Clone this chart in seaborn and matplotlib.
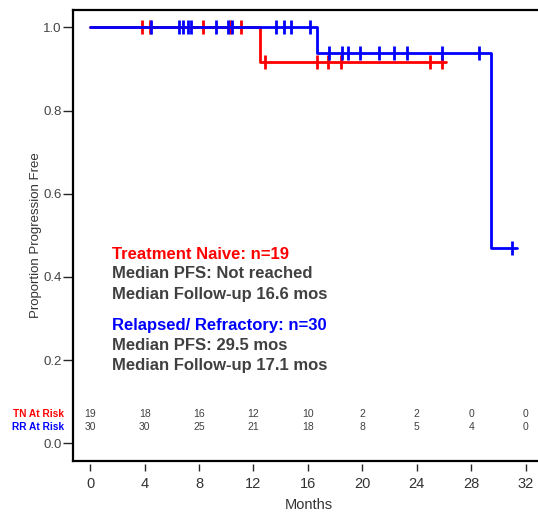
import numpy as np
import pandas as pd
import matplotlib
matplotlib.use("Agg")
import matplotlib.pyplot as plt
import seaborn as sns

# Kaplan-Meier steps (months, proportion progression free)
tn_times = [0, 12.48, 26.13]
tn_surv = [1.0, 0.917, 0.917]
tn_censor = [3.78, 4.39, 8.31, 10.27, 11.08, 12.84, 16.65, 17.5, 18.43, 24.98, 25.88]

rr_times = [0, 16.65, 29.44, 31.4]
rr_surv = [1.0, 0.939, 0.469, 0.469]
rr_censor = [4.46, 6.52, 6.84, 7.16, 7.40, 9.22, 10.15, 10.40, 13.63, 14.24,
             14.76, 16.15, 17.57, 18.49, 18.93, 19.83, 21.23, 22.35, 23.26,
             25.88, 28.60, 31.0]

risk_months = [0, 4, 8, 12, 16, 20, 24, 28, 32]
tn_at_risk = [19, 18, 16, 12, 10, 2, 2, 0, 0]
rr_at_risk = [30, 30, 25, 21, 18, 8, 5, 4, 0]

RED = "#ff0000"
BLUE = "#0000ff"
GREY = "#404040"


def step_value(times, surv, t):
    idx = np.searchsorted(times, t, side="right") - 1
    return np.asarray(surv)[idx]


sns.set_style("white")
plt.rcParams["font.family"] = ["Liberation Sans", "DejaVu Sans"]

fig = plt.figure(figsize=(5.38, 5.13), dpi=100)
ax = fig.add_axes([0.1351, 0.1019, 0.878, 0.8786])

tn_curve = pd.DataFrame({"month": tn_times, "pfs": tn_surv})
rr_curve = pd.DataFrame({"month": rr_times, "pfs": rr_surv})
sns.lineplot(data=tn_curve, x="month", y="pfs", drawstyle="steps-post",
             color=RED, linewidth=2.0, ax=ax)
sns.lineplot(data=rr_curve, x="month", y="pfs", drawstyle="steps-post",
             color=BLUE, linewidth=2.0, ax=ax)

tn_marks = pd.DataFrame({"month": tn_censor,
                         "pfs": step_value(tn_times, tn_surv, tn_censor)})
rr_marks = pd.DataFrame({"month": rr_censor,
                         "pfs": step_value(rr_times, rr_surv, rr_censor)})
sns.scatterplot(data=tn_marks, x="month", y="pfs", marker="|", s=110,
                color=RED, linewidth=2, ax=ax)
sns.scatterplot(data=rr_marks, x="month", y="pfs", marker="|", s=110,
                color=BLUE, linewidth=2, ax=ax)

ax.set_xlim(-1.29, 33.43)
ax.set_ylim(-0.042, 1.042)
ax.set_xticks(risk_months)
ax.set_yticks([0.0, 0.2, 0.4, 0.6, 0.8, 1.0])
ax.set_yticklabels(["0.0", "0.2", "0.4", "0.6", "0.8", "1.0"])
ax.tick_params(axis="y", direction="out", length=7, width=1, pad=1,
               labelsize=9.5, labelcolor="#444444", left=True)
ax.tick_params(axis="x", direction="out", length=5, width=1, pad=5,
               labelsize=10.5, labelcolor="#333333", bottom=True)

for side in ["left", "top"]:
    ax.spines[side].set_linewidth(1.6)
    ax.spines[side].set_color("black")
ax.spines["right"].set_visible(False)
# detached x ticks below the box, box bottom drawn separately
ax.spines["bottom"].set_position(("outward", 2))
ax.spines["bottom"].set_visible(False)
ax.plot([0, 1], [0, 0], transform=ax.transAxes, color="black",
        linewidth=1.6, clip_on=False, solid_capstyle="projecting")

ax.set_xlabel("Months", fontsize=10.5, color="#333333", labelpad=5)
ax.set_ylabel("Proportion Progression Free", fontsize=9.5, color="#333333",
              labelpad=1)

# annotations
notes = [
    ("Treatment Naive: n=19", 0.455, RED),
    ("Median PFS: Not reached", 0.409, GREY),
    ("Median Follow-up 16.6 mos", 0.357, GREY),
    ("Relapsed/ Refractory: n=30", 0.284, BLUE),
    ("Median PFS: 29.5 mos", 0.236, GREY),
    ("Median Follow-up 17.1 mos", 0.186, GREY),
]
for txt, yy, col in notes:
    ax.text(1.57, yy, txt, color=col, fontsize=12, fontweight="bold",
            va="center", ha="left")

# numbers at risk
ax.text(-1.93, 0.0697, "TN At Risk", color=RED, fontsize=7.3,
        fontweight="bold", ha="right", va="center", clip_on=False)
ax.text(-1.93, 0.040, "RR At Risk", color=BLUE, fontsize=7.3,
        fontweight="bold", ha="right", va="center", clip_on=False)
for m, a, b in zip(risk_months, tn_at_risk, rr_at_risk):
    ax.text(m, 0.0697, str(a), fontsize=7.5, color=GREY, ha="center",
            va="center")
    ax.text(m, 0.040, str(b), fontsize=7.5, color=GREY, ha="center",
            va="center")

fig.savefig("out.png", dpi=100)
